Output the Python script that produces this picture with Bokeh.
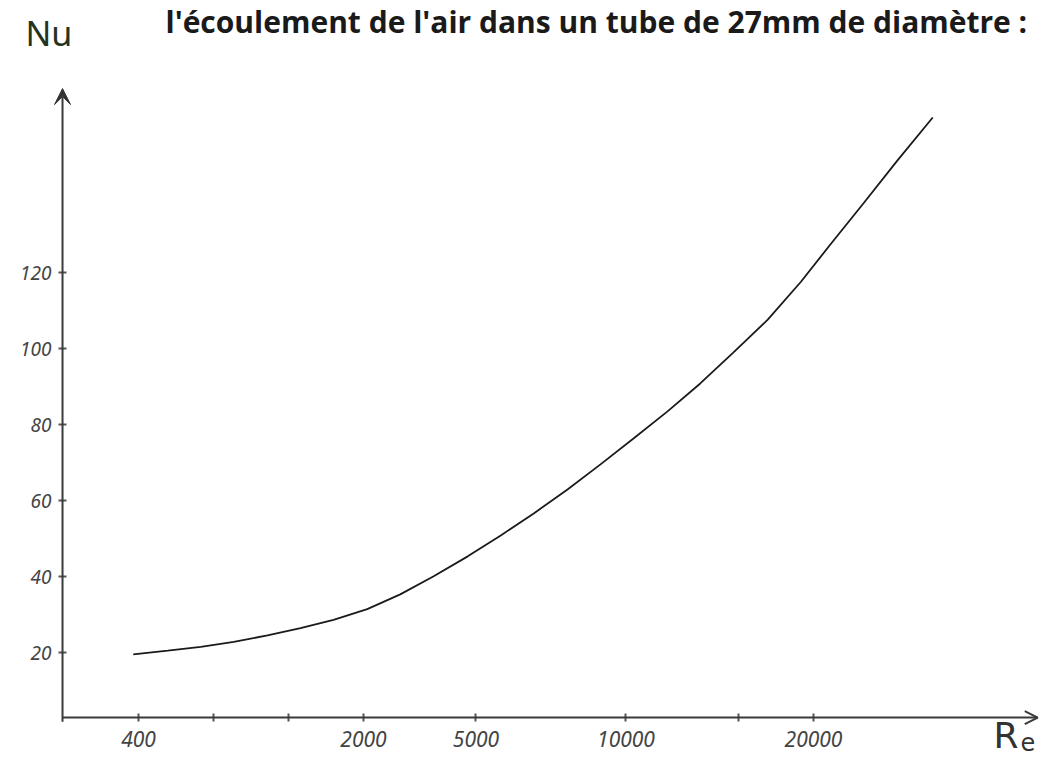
from bokeh.plotting import figure
from bokeh.models import Range1d, FixedTicker, Label, Arrow, OpenHead, VeeHead
from bokeh.embed import file_html
from bokeh.resources import INLINE

# ---- data ----
# positions of the graduations along the hand-drawn Re axis (graduation units)
re_tick_grad = [0, 1, 2, 3, 4.5, 6.5, 8, 9]
re_tick_text = ["400", "", "", "2000", "5000", "10000", "", "20000"]
nu_ticks = [20, 40, 60, 80, 100, 120]
nu_tick_text = ["20", "40", "60", "80", "100", "120"]

# curve Nu = f(Re), x in graduation units of the drawn axis
curve_re_grad = [-0.07, 0.39, 0.83, 1.27, 1.72, 2.16, 2.6, 3.05, 3.49, 3.93, 4.39, 4.83,
                 5.27, 5.72, 6.16, 6.6, 7.05, 7.49, 7.93, 8.39, 8.83, 9.23, 9.67, 10.12, 10.59]
curve_nu = [19.5, 20.5, 21.5, 22.8, 24.5, 26.4, 28.6, 31.4, 35.3, 40.0, 45.3, 50.8,
            56.6, 62.9, 69.5, 76.3, 83.4, 90.8, 98.9, 107.6, 117.5, 127.5, 138.3, 149.5, 160.8]

title_text = "l'écoulement de l'air dans un tube de 27mm de diamètre :"

# ranges of the drawing sheet and where the hand-drawn axes sit on it
x_start, x_end = -1.84, 12.1067
y_start, y_end = -8.42, 191.58
x_axis_level = 2.89      # Nu level of the drawn Re axis
y_axis_level = -1.013    # graduation level of the drawn Nu axis
x_arrow_tip = 11.99
y_arrow_tip = 168.4
y_axis_foot = 1.8

p = figure(width=1046, height=760, output_backend="svg", toolbar_location=None,
           x_range=Range1d(x_start, x_end), y_range=Range1d(y_start, y_end),
           min_border_left=0, min_border_right=0, min_border_top=0, min_border_bottom=0)
p.outline_line_color = None
p.grid.visible = False
p.background_fill_color = "white"
p.border_fill_color = "white"

# x axis: ticks and labels pulled up onto the drawn axis line
xa = p.xaxis[0]
xa.ticker = FixedTicker(ticks=re_tick_grad)
xa.major_label_overrides = {t: s for t, s in zip(re_tick_grad, re_tick_text)}
xa.minor_tick_line_color = None
xa.axis_line_color = None
xa.major_tick_line_color = "#555555"
xa.major_tick_line_width = 2
xa.major_tick_in = 47
xa.major_tick_out = -39
xa.major_label_standoff = -30
xa.major_label_text_font = "Noto Sans"
xa.major_label_text_font_style = "italic"
xa.major_label_text_font_size = "21px"
xa.major_label_text_color = "#444444"

# y axis
ya = p.yaxis[0]
ya.ticker = FixedTicker(ticks=nu_ticks)
ya.major_label_overrides = {t: s for t, s in zip(nu_ticks, nu_tick_text)}
ya.minor_tick_line_color = None
ya.axis_line_color = None
ya.major_tick_line_color = "#555555"
ya.major_tick_line_width = 2
ya.major_tick_in = 66
ya.major_tick_out = -58
ya.major_label_standoff = -51
ya.major_label_text_font = "Noto Sans"
ya.major_label_text_font_style = "italic"
ya.major_label_text_font_size = "19px"
ya.major_label_text_color = "#444444"

# curve
p.line(curve_re_grad, curve_nu, line_color="#1a1a1a", line_width=1.8)

# hand-drawn axis lines with arrowheads
p.add_layout(Arrow(end=OpenHead(size=13, line_width=2, line_color="#3a3a3a"),
                   x_start=y_axis_level, y_start=x_axis_level, x_end=x_arrow_tip, y_end=x_axis_level,
                   line_color="#3a3a3a", line_width=2))
p.add_layout(Arrow(end=VeeHead(size=16, fill_color="#333333", line_color="#333333"),
                   x_start=y_axis_level, y_start=y_axis_foot, x_end=y_axis_level, y_end=y_arrow_tip,
                   line_color="#3a3a3a", line_width=2))

# texts
p.add_layout(Label(x=0.36, y=186.0, text=title_text, text_font="Open Sans",
                   text_font_style="bold", text_font_size="30px", text_color="#1a1a1a",
                   text_baseline="alphabetic", text_align="left"))
p.add_layout(Label(x=-1.507, y=183.0, text="Nu", text_font="Noto Sans",
                   text_font_size="34px", text_color="#223322",
                   text_baseline="alphabetic", text_align="left"))
p.add_layout(Label(x=11.4, y=-1.9, text="R", text_font="DejaVu Sans",
                   text_font_size="36px", text_color="#333333",
                   text_baseline="alphabetic", text_align="left"))
p.add_layout(Label(x=11.76, y=-3.6, text="e", text_font="DejaVu Sans",
                   text_font_size="24px", text_color="#333333",
                   text_baseline="alphabetic", text_align="left"))

open("out.html", "w").write(file_html(p, INLINE))
